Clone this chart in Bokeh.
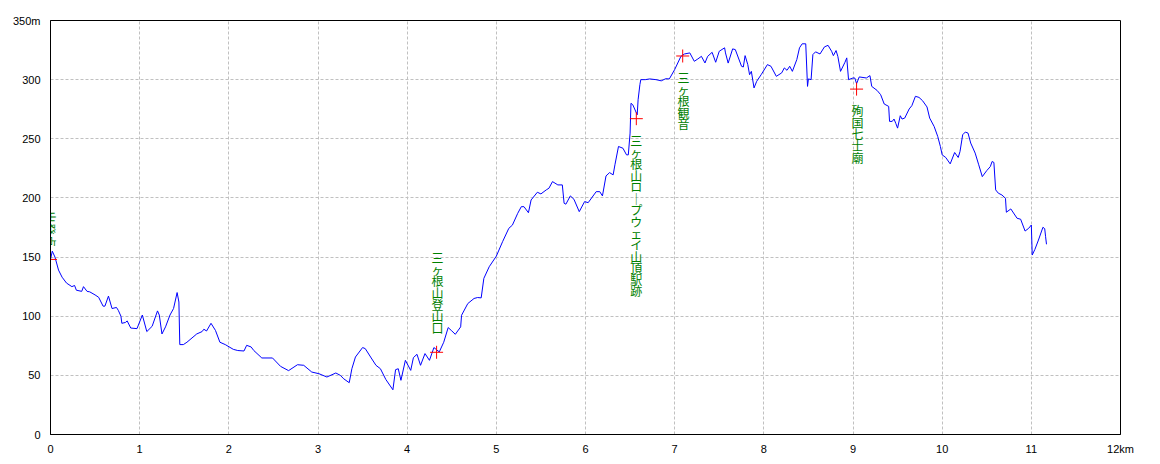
import math
from bokeh.plotting import figure
from bokeh.models import ColumnDataSource, FixedTicker, Range1d
from bokeh.core.properties import value
from bokeh.embed import file_html
from bokeh.resources import INLINE

# ---- profile data (km, m) ----
dist_km = [
    0.00, 0.02, 0.05, 0.09, 0.13, 0.18, 0.24, 0.27, 0.29, 0.35, 0.37, 0.41, 0.44, 0.50, 0.54,
    0.59, 0.61, 0.65, 0.69, 0.74, 0.76, 0.79, 0.80, 0.84, 0.86, 0.90, 0.97, 1.03, 1.08, 1.14,
    1.20, 1.22, 1.25, 1.29, 1.34, 1.38, 1.42, 1.44, 1.45, 1.49, 1.53, 1.64, 1.70, 1.72, 1.75,
    1.80, 1.85, 1.90, 1.96, 2.05, 2.10, 2.17, 2.20, 2.25, 2.28, 2.37, 2.49, 2.58, 2.67, 2.77,
    2.84, 2.93, 3.01, 3.10, 3.20, 3.25, 3.29, 3.35, 3.38, 3.42, 3.50, 3.53, 3.59, 3.65, 3.70,
    3.76, 3.84, 3.87, 3.90, 3.93, 3.98, 4.04, 4.07, 4.11, 4.15, 4.20, 4.25, 4.30, 4.36, 4.41,
    4.46, 4.50, 4.54, 4.60, 4.61, 4.68, 4.75, 4.79, 4.83, 4.86, 4.92, 5.00, 5.07, 5.14, 5.18,
    5.24, 5.28, 5.31, 5.36, 5.39, 5.46, 5.50, 5.56, 5.59, 5.63, 5.69, 5.74, 5.76, 5.78, 5.83,
    5.87, 5.93, 5.99, 6.03, 6.12, 6.16, 6.19, 6.23, 6.27, 6.31, 6.33, 6.37, 6.42, 6.46, 6.48,
    6.50, 6.51, 6.53, 6.58, 6.59, 6.61, 6.62, 6.67, 6.72, 6.79, 6.85, 6.90, 6.94, 7.00, 7.07,
    7.11, 7.17, 7.22, 7.26, 7.30, 7.34, 7.37, 7.42, 7.46, 7.50, 7.56, 7.57, 7.60, 7.65, 7.68,
    7.75, 7.77, 7.79, 7.82, 7.84, 7.86, 7.89, 7.92, 7.97, 8.04, 8.08, 8.14, 8.20, 8.23, 8.26,
    8.29, 8.32, 8.37, 8.40, 8.43, 8.47, 8.49, 8.50, 8.53, 8.55, 8.58, 8.63, 8.68, 8.72, 8.76,
    8.78, 8.81, 8.83, 8.86, 8.91, 8.93, 8.95, 9.00, 9.02, 9.04, 9.07, 9.15, 9.19, 9.21, 9.27,
    9.31, 9.35, 9.40, 9.41, 9.44, 9.46, 9.48, 9.50, 9.53, 9.55, 9.58, 9.63, 9.66, 9.70, 9.74,
    9.78, 9.83, 9.86, 9.91, 9.95, 9.98, 10.00, 10.04, 10.09, 10.14, 10.18, 10.20, 10.23, 10.26, 10.29,
    10.32, 10.37, 10.41, 10.45, 10.50, 10.54, 10.56, 10.58, 10.60, 10.63, 10.67, 10.71, 10.72, 10.77, 10.84,
    10.88, 10.93, 10.97, 11.00, 11.01, 11.04, 11.08, 11.13, 11.15, 11.16, 11.17,
]
elev_m = [
    148, 155, 150, 139, 133, 128, 125, 126, 122, 121, 125, 121, 120.6, 118, 116,
    108.5, 108.5, 117, 106.5, 107.4, 105, 100, 94, 94.7, 96, 90, 89.5, 101, 87, 91.5,
    104.5, 101, 85, 91, 101, 106.5, 120, 112, 76, 76, 78, 85, 87, 89, 87.5,
    94, 88, 78, 76, 72, 71, 70.6, 75.4, 74, 71, 64.7, 64.7, 57.6, 54, 59,
    58.5, 52.8, 51.4, 48.6, 52, 50, 47, 43.8, 55.6, 65.5, 73.5, 72.6, 65.5, 58.5, 55.6,
    46.6, 37.8, 54.8, 55.6, 45.8, 62.7, 54.2, 65, 67.8, 58.5, 68.4, 62.7, 73.5, 69.8, 78,
    90.4, 87.6, 84.7, 91, 100.8, 110.7, 115, 115.8, 115.5, 132, 141.8, 150.8, 163, 174.3, 177,
    187, 192.6, 192.6, 187.5, 198.3, 204.8, 203.4, 206.8, 208.2, 213.8, 211, 211, 195.5, 194.7, 201.7,
    198.9, 188.4, 196.9, 196, 205.3, 205.3, 201.7, 218.6, 221.4, 219.5, 228, 243.5, 242, 236.4, 236.4,
    254.8, 280, 278.8, 270.3, 283, 295.8, 300, 300, 300.6, 300, 299, 300.8, 300.6, 308.5, 319.7,
    321.7, 322.6, 315.5, 317.5, 319.7, 314.1, 319.7, 323.1, 314.7, 324, 326.9, 322.6, 314, 326, 325.4,
    311.3, 310.7, 320.3, 312.7, 304.2, 307, 293, 298.6, 304.2, 312.7, 311.3, 302.8, 305.7, 309.9, 307.9,
    311.3, 307, 317, 326.9, 330.3, 330.3, 294.3, 300.6, 300, 321.2, 323.5, 321.7, 327.7, 329, 324,
    320.3, 324.6, 319.7, 307, 314.7, 318.4, 300, 301.4, 301.4, 296.6, 302.3, 301.4, 303.4, 294.3, 290.9,
    287.3, 279.4, 277.4, 264.7, 264.7, 266.7, 263, 259, 269.5, 266.7, 267.5, 275.2, 278, 285.9, 285,
    282.2, 276.9, 267.5, 260.4, 252, 243.5, 236.4, 234.2, 228.8, 238.4, 234.2, 239.2, 253.4, 255.7, 254.8,
    246.4, 237.9, 228, 218, 223.1, 226.5, 230.8, 230, 206.8, 204, 202.5, 199.7, 187.9, 190.7, 182.8,
    182, 172, 174.3, 177.1, 151.7, 156.5, 164.4, 175.2, 174, 167.2, 160.8,
]

# ---- waypoints ----
wp_names = ["出発点", "三ヶ根山登山口", "三ヶ根山ロ｜プウェイ山頂駅跡", "三ヶ根観音", "殉国七士廟"]
wp_km = [0.0, 4.33, 6.57, 7.09, 9.04]
wp_m = [148, 69.5, 267, 320, 292]
# label anchor (km, top in m) for the vertical labels
lab_km = [4.34, 6.57, 7.10, 9.05]
lab_top_m = [156.5, 255.7, 309.0, 280.8]
start_label_m = 173.7

x_ticks = list(range(0, 13))
y_ticks = list(range(0, 351, 50))

p = figure(width=1160, height=464, output_backend="svg", toolbar_location=None,
           x_range=Range1d(0, 12), y_range=Range1d(0, 350),
           min_border_left=50, min_border_right=40, min_border_top=20, min_border_bottom=30,
           background_fill_color="white", border_fill_color="white")
p.outline_line_color = "black"
p.outline_line_width = 1

for ax, ticks, over in ((p.xaxis[0], x_ticks, {12: "12km"}), (p.yaxis[0], y_ticks, {350: "350m"})):
    ax.ticker = FixedTicker(ticks=ticks)
    ax.major_label_overrides = over
    ax.major_tick_line_color = None
    ax.minor_tick_line_color = None
    ax.axis_line_color = "black"
    ax.major_label_text_font = "Liberation Sans"
    ax.major_label_text_font_size = "11px"
    ax.major_label_text_color = "black"
p.xaxis.major_label_standoff = 2
p.yaxis.major_label_standoff = 4

for g in (p.xgrid[0], p.ygrid[0]):
    g.grid_line_color = "#c0c0c0"
    g.grid_line_dash = "3 2"
    g.grid_line_width = 1

p.line(dist_km, elev_m, line_color="#0000ff", line_width=1)

p.scatter(wp_km, wp_m, marker="cross", size=13, line_color="#ff0000", line_width=1)

vsrc = ColumnDataSource(dict(x=lab_km, y=lab_top_m, t=["\n".join(n) for n in wp_names[1:]]))
p.text(x="x", y="y", text="t", source=vsrc, text_font=value("Noto Sans CJK JP"),
       text_font_size="12px", text_color="#008000", text_align="center",
       text_baseline="top", text_line_height=0.68)

p.text(x=[wp_km[0]], y=[start_label_m], text=[wp_names[0]], angle=-math.pi / 2,
       text_font=value("Noto Sans CJK JP"), text_font_size="12px", text_color="#008000",
       text_align="center", text_baseline="middle")

open("out.html", "w").write(file_html(p, INLINE))
